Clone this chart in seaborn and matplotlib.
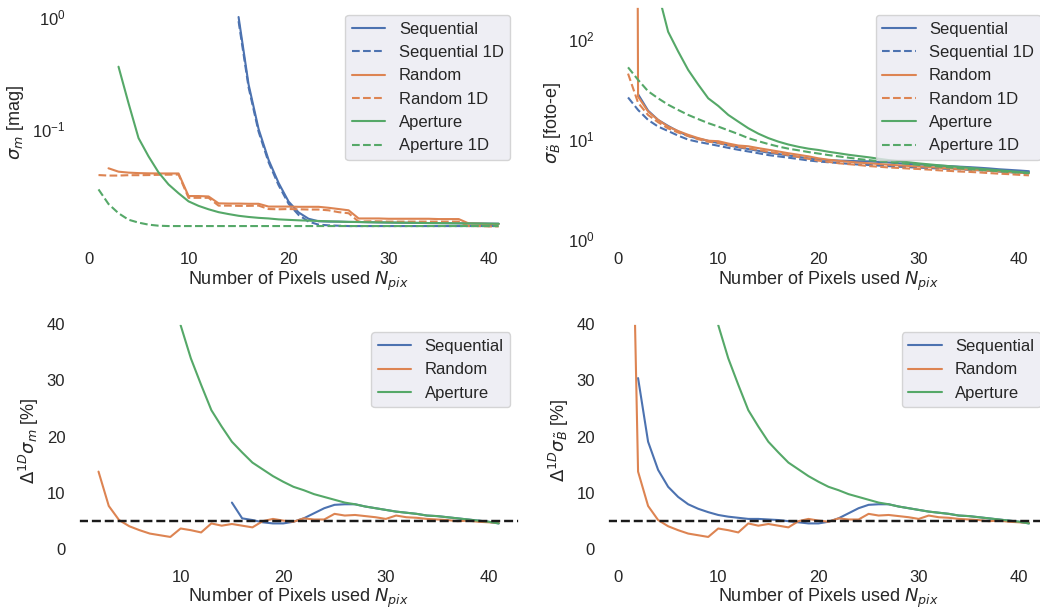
import matplotlib
matplotlib.use("Agg")
import matplotlib.pyplot as plt
import seaborn as sns

# ---------------- data ----------------
# Top-left: sigma_m [mag]
seq_x_sm = list(range(15, 42))
seq_sm = [1.0, 0.25, 0.10, 0.053, 0.033, 0.0225, 0.0180, 0.0158, 0.0150, 0.0149, 0.0149, 0.0148,
          0.01478, 0.01472, 0.01467, 0.01462, 0.01458, 0.01455, 0.01451, 0.01447, 0.01445,
          0.01442, 0.01439, 0.01436, 0.01433, 0.0143, 0.01426]
seq1d_sm = [0.917, 0.236, 0.0948, 0.0505, 0.0315, 0.0215, 0.0171, 0.0149, 0.0140, 0.0138, 0.0137, 0.0136,
            0.0136, 0.0136, 0.0136, 0.0136, 0.0136, 0.0136, 0.0136, 0.0136, 0.0136,
            0.0136, 0.0136, 0.0136, 0.0136, 0.0136, 0.0136]
rnd_x_sm = list(range(2, 42))
rnd_sm = [0.0446, 0.0416, 0.0408, 0.0404, 0.0402, 0.0401, 0.0401, 0.0401,
          0.0252, 0.0252, 0.0250,
          0.0217, 0.0216, 0.0216, 0.0215, 0.0215,
          0.0203, 0.0203, 0.0203, 0.0202, 0.0202, 0.0202, 0.0198,
          0.0193, 0.0188,
          0.0159, 0.0159, 0.0159, 0.0158, 0.0158, 0.0158, 0.0158, 0.0158, 0.0157, 0.0157, 0.0157,
          0.01436, 0.0143, 0.0142, 0.0142]
rnd1d_x_sm = list(range(1, 42))
rnd1d_sm = [0.0388, 0.0384, 0.0384, 0.0387, 0.0387, 0.0388, 0.0390, 0.0391, 0.0392,
            0.0243, 0.0243, 0.0243, 0.0207, 0.0207, 0.0206, 0.0206, 0.0207,
            0.0193, 0.0192, 0.0193, 0.0192, 0.0191, 0.0191, 0.0188, 0.0181, 0.0177,
            0.0149, 0.0150, 0.0150, 0.0149, 0.0149, 0.0149, 0.0149, 0.0149, 0.0149, 0.0149, 0.0149,
            0.0136, 0.0136, 0.0135, 0.0135]
ap_x_sm = list(range(3, 42))
ap_sm = [0.36, 0.17, 0.083, 0.057, 0.041, 0.032, 0.0267, 0.0226, 0.0206, 0.0192, 0.0181, 0.0174,
         0.0168, 0.0164, 0.0161, 0.0159, 0.0156, 0.01545, 0.0153, 0.0152, 0.0151, 0.0150, 0.0149, 0.01483,
         0.01478, 0.01472, 0.01467, 0.01462, 0.01458, 0.01455, 0.01451, 0.01447, 0.01445,
         0.01442, 0.01439, 0.01436, 0.01433, 0.0143, 0.01426]
ap1d_x_sm = list(range(1, 42))
ap1d_sm = [0.0289, 0.0214, 0.0177, 0.0155, 0.0146, 0.0140, 0.0137,
           0.0136, 0.0136, 0.0136, 0.0136, 0.0136, 0.0136, 0.0136, 0.0136, 0.0136, 0.0136,
           0.0136, 0.0136, 0.0136, 0.0136, 0.0136, 0.0136, 0.0136, 0.0136, 0.0136, 0.0136,
           0.0136, 0.0136, 0.0136, 0.0136, 0.0136, 0.0136, 0.0136, 0.0136, 0.0136, 0.0136,
           0.0136, 0.0136, 0.0136, 0.0136]

# Top-right: sigma_B [foto-e]
seq_x_sb = list(range(2, 42))
seq_sb = [28.0, 19.2, 15.5, 13.5, 11.9, 10.7, 10.08, 9.58, 9.1, 8.65, 8.26, 7.93, 7.61, 7.29, 7.07,
          6.84, 6.62, 6.39, 6.24, 6.15, 6.08, 6.04, 5.99, 5.97, 5.89, 5.82, 5.71, 5.63, 5.56, 5.49,
          5.42, 5.36, 5.29, 5.23, 5.16, 5.08, 4.98, 4.91, 4.84, 4.76]
seq1d_x_sb = list(range(1, 42))
seq1d_sb = [26, 19.5, 15.5, 13.3, 12.0, 10.8, 9.85, 9.35, 8.95, 8.55, 8.15, 7.8, 7.5, 7.2, 6.9,
            6.7, 6.5, 6.3, 6.1, 5.95, 5.85, 5.75, 5.65, 5.55, 5.5, 5.42, 5.35, 5.28, 5.22, 5.17,
            5.12, 5.07, 5.02, 4.97, 4.92, 4.87, 4.8, 4.72, 4.66, 4.6, 4.54]
rnd_x_sb = list(range(1, 42))
rnd_sb = [1e30, 26.5, 18.8, 15.5, 13.3, 12.0, 11.0, 10.2, 9.6, 9.5, 9.0, 8.6, 8.45, 8.1, 7.8,
          7.5, 7.2, 6.95, 6.7, 6.4, 6.2, 6.05, 5.92, 5.8, 5.72, 5.62, 5.53, 5.45, 5.37, 5.3,
          5.25, 5.15, 5.08, 5.0, 4.95, 4.88, 4.8, 4.74, 4.67, 4.6, 4.54]
rnd1d_x_sb = list(range(1, 42))
rnd1d_sb = [45, 23, 17.35, 14.7, 12.75, 11.6, 10.7, 9.95, 9.39, 9.15, 8.69, 8.34, 8.06, 7.76, 7.45,
            7.19, 6.92, 6.6, 6.34, 6.07, 5.9, 5.72, 5.6, 5.49, 5.36, 5.28, 5.19, 5.13, 5.06, 5.01,
            4.94, 4.86, 4.8, 4.73, 4.69, 4.63, 4.56, 4.5, 4.45, 4.38, 4.33]
ap_x_sb = list(range(3, 42))
ap_sb = [1500, 290, 118, 75, 49, 35, 25.5, 21.4, 17.4, 14.9, 12.8, 11.3, 10.2, 9.4, 8.8, 8.35,
         8.0, 7.76, 7.45, 7.2, 6.95, 6.75, 6.56, 6.35, 6.15, 6.0, 5.85, 5.7, 5.58, 5.46, 5.35,
         5.25, 5.15, 5.05, 4.95, 4.86, 4.77, 4.68, 4.6]
ap1d_x_sb = list(range(1, 42))
ap1d_sb = [52, 39, 30, 25.5, 22, 19.5, 17.4, 15.8, 14.4, 13.3, 12.2, 11.2, 10.2, 9.5, 8.9, 8.4,
           8.0, 7.7, 7.4, 7.15, 6.9, 6.7, 6.5, 6.3, 6.15, 6.0, 5.88, 5.76, 5.63, 5.5, 5.4, 5.3,
           5.2, 5.1, 5.0, 4.92, 4.84, 4.76, 4.68, 4.61, 4.54]

# Bottom-left: Delta^{1D} sigma_m [%]
dseq_x_sm = list(range(15, 42))
dseq_sm = [8.3, 5.5, 5.2, 4.8, 4.6, 4.6, 4.9, 5.5, 6.4, 7.3, 7.9, 8.0,
           8.0, 7.6, 7.3, 7.0, 6.7, 6.5, 6.3, 6.0, 5.9, 5.7, 5.5, 5.3, 5.1, 4.9, 4.6]
drnd_x_sm = list(range(2, 42))
drnd_sm = [13.8, 7.7, 5.2, 4.1, 3.4, 2.8, 2.5, 2.2, 3.7, 3.4, 3.0, 4.6, 4.2, 4.5, 4.2, 3.9,
           5.0, 5.4, 5.1, 4.9, 5.5, 5.3, 5.3, 6.3, 6.0, 6.1, 5.9, 5.7, 5.4, 6.0, 5.7, 5.6,
           5.4, 5.3, 5.2, 5.0, 5.1, 4.9, 4.8, 4.7]
dap_x = list(range(10, 42))
dap = [39.8, 33.9, 29.2, 24.7, 21.8, 19.1, 17.2, 15.4, 14.2, 13.0, 12.0, 11.1, 10.5, 9.8, 9.3, 8.8,
       8.3, 8.0, 7.6, 7.3, 7.0, 6.7, 6.5, 6.3, 6.0, 5.9, 5.7, 5.5, 5.3, 5.1, 4.9, 4.6]

# Bottom-right: Delta^{1D} sigma_B [%]
dseq_x_sb = list(range(2, 42))
dseq_sb = [30.4, 19.1, 14.1, 11.1, 9.3, 8.0, 7.2, 6.6, 6.1, 5.8, 5.6, 5.4, 5.4, 5.3, 5.2, 5.0,
           4.8, 4.6, 4.6, 4.9, 5.5, 6.4, 7.3, 7.9, 8.0,
           8.0, 7.6, 7.3, 7.0, 6.7, 6.5, 6.3, 6.0, 5.9, 5.7, 5.5, 5.3, 5.1, 4.9, 4.6]
drnd_x_sb = list(range(1, 42))
drnd_sb = [100, 13.8, 7.7, 5.2, 4.1, 3.4, 2.8, 2.5, 2.2, 3.7, 3.4, 3.0, 4.6, 4.2, 4.5, 4.2, 3.9,
           5.0, 5.4, 5.1, 4.9, 5.5, 5.3, 5.3, 6.3, 6.0, 6.1, 5.9, 5.7, 5.4, 6.0, 5.7, 5.6,
           5.4, 5.3, 5.2, 5.0, 5.1, 4.9, 4.8, 4.7]

ref_level = 5

# ---------------- style ----------------
sns.set_theme(style="darkgrid", context="notebook")
plt.rcParams["font.family"] = ["Liberation Sans", "DejaVu Sans"]
plt.rcParams.update({
    "axes.facecolor": "white",
    "axes.grid": False,
    "legend.facecolor": "#EAEAF2",
    "xtick.labelsize": 12,
    "ytick.labelsize": 12,
    "legend.fontsize": 12,
    "axes.labelsize": 13,
})
pal = sns.color_palette("deep")
c_seq, c_rnd, c_ap = pal[0], pal[1], pal[2]

W, H = 1040, 611
fig = plt.figure(figsize=(W / 100, H / 100), dpi=100)
fig.patch.set_facecolor("white")


def frac(l, t, r, b):
    return [l / W, 1 - b / H, (r - l) / W, (b - t) / H]


ax_tl = fig.add_axes(frac(78.5, 6.7, 518.7, 239))
ax_tr = fig.add_axes(frac(608, 6.7, 1049, 239))
ax_bl = fig.add_axes(frac(78.5, 324, 518.7, 557))
ax_br = fig.add_axes(frac(608, 324, 1049, 557))

xlabel = r"Number of Pixels used $N_{pix}$"

# top-left
for x, y, c, ls, lab in [
    (seq_x_sm, seq_sm, c_seq, "-", "Sequential"),
    (seq_x_sm, seq1d_sm, c_seq, "--", "Sequential 1D"),
    (rnd_x_sm, rnd_sm, c_rnd, "-", "Random"),
    (rnd1d_x_sm, rnd1d_sm, c_rnd, "--", "Random 1D"),
    (ap_x_sm, ap_sm, c_ap, "-", "Aperture"),
    (ap1d_x_sm, ap1d_sm, c_ap, "--", "Aperture 1D"),
]:
    sns.lineplot(x=x, y=y, ax=ax_tl, color=c, linestyle=ls, label=lab)
ax_tl.set_yscale("log")
ax_tl.set_ylim(10 ** -1.982, 10 ** 0.092)
ax_tl.set_xlim(-1, 43)
ax_tl.set_xticks([0, 10, 20, 30, 40])
ax_tl.set_ylabel(r"$\sigma_m$ [mag]")
ax_tl.set_xlabel(xlabel, labelpad=2)
ax_tl.legend(loc="upper right")

# top-right
for x, y, c, ls, lab in [
    (seq_x_sb, seq_sb, c_seq, "-", "Sequential"),
    (seq1d_x_sb, seq1d_sb, c_seq, "--", "Sequential 1D"),
    (rnd_x_sb, rnd_sb, c_rnd, "-", "Random"),
    (rnd1d_x_sb, rnd1d_sb, c_rnd, "--", "Random 1D"),
    (ap_x_sb, ap_sb, c_ap, "-", "Aperture"),
    (ap1d_x_sb, ap1d_sb, c_ap, "--", "Aperture 1D"),
]:
    sns.lineplot(x=x, y=y, ax=ax_tr, color=c, linestyle=ls, label=lab)
ax_tr.set_yscale("log")
ax_tr.set_ylim(1, 210)
ax_tr.set_xlim(-1, 43)
ax_tr.set_xticks([0, 10, 20, 30, 40])
ax_tr.set_ylabel(r"$\sigma_{\tilde{B}}$ [foto-e]")
ax_tr.set_xlabel(xlabel, labelpad=2)
ax_tr.legend(loc="upper right")

# bottom-left
sns.lineplot(x=dseq_x_sm, y=dseq_sm, ax=ax_bl, color=c_seq, label="Sequential")
sns.lineplot(x=drnd_x_sm, y=drnd_sm, ax=ax_bl, color=c_rnd, label="Random")
sns.lineplot(x=dap_x, y=dap, ax=ax_bl, color=c_ap, label="Aperture")
ax_bl.axhline(ref_level, color="k", linestyle="--", linewidth=1.75)
ax_bl.set_ylim(-1.36, 40)
ax_bl.set_xlim(0.05, 42.95)
ax_bl.set_xticks([10, 20, 30, 40])
ax_bl.set_yticks([0, 10, 20, 30, 40])
ax_bl.set_ylabel(r"$\Delta^{1D}\sigma_m$ [%]")
ax_bl.set_xlabel(xlabel, labelpad=1)
ax_bl.legend(loc="upper right")

# bottom-right
sns.lineplot(x=dseq_x_sb, y=dseq_sb, ax=ax_br, color=c_seq, label="Sequential")
sns.lineplot(x=drnd_x_sb, y=drnd_sb, ax=ax_br, color=c_rnd, label="Random")
sns.lineplot(x=dap_x, y=dap, ax=ax_br, color=c_ap, label="Aperture")
ax_br.axhline(ref_level, color="k", linestyle="--", linewidth=1.75)
ax_br.set_ylim(-1.36, 40)
ax_br.set_xlim(-1, 43)
ax_br.set_xticks([0, 10, 20, 30, 40])
ax_br.set_yticks([0, 10, 20, 30, 40])
ax_br.set_ylabel(r"$\Delta^{1D}\sigma_{\tilde{B}}$ [%]")
ax_br.set_xlabel(xlabel, labelpad=1)
ax_br.legend(loc="upper right")

fig.savefig("out.png", dpi=100, facecolor="white")
